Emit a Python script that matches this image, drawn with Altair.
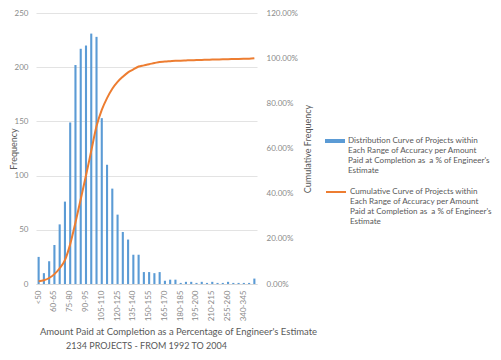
import altair as alt
import pandas as pd

categories = ["<50", "50-55", "55-60", "60-65", "65-70", "70-75", "75-80", "80-85", "85-90",
              "90-95", "95-100", "100-105", "105-110", "110-115", "115-120", "120-125", "125-130",
              "130-135", "135-140", "140-145", "145-150", "150-155", "155-160", "160-165",
              "165-170", "170-175", "175-180", "180-185", "185-190", "190-195", "195-200",
              "200-205", "205-210", "210-215", "225-230", "240-245", "255-260", "275-280",
              "300-305", "340-345", "360-365", ">400"]
frequency = [25, 10, 21, 36, 55, 76, 149, 202, 217, 220, 231, 228, 153, 110, 88, 64, 48,
             41, 27, 27, 11, 11, 10, 11, 3, 4, 4, 1, 2, 2, 1, 2, 1, 2, 1, 1, 2, 1, 1, 1, 1, 5]
shown_labels = ["<50", "60-65", "75-80", "90-95", "105-110", "120-125", "135-140", "150-155",
                "165-170", "180-185", "195-200", "210-215", "255-260", "340-345"]
freq_ticks = [0, 50, 100, 150, 200, 250]
cum_ticks = [0, 0.2, 0.4, 0.6, 0.8, 1.0, 1.2]
bar_series = "Distribution Curve of Projects within|Each Range of Accuracy per Amount|Paid at Completion as\u00a0 a % of Engineer's|Estimate"
line_series = "Cumulative Curve of Projects within|Each Range of Accuracy per Amount|Paid at Completion as\u00a0 a % of Engineer's|Estimate"

df = pd.DataFrame({"range": categories, "freq": frequency,
                   "order": list(range(len(categories)))})
df["bar_series"] = bar_series
df["line_series"] = line_series

FONT = "Lato"
DARK = "#595959"
LIGHT = "#8a8a8a"
BLUE = "#5B9BD5"
ORANGE = "#ED7D31"

xenc = alt.X("range:N", sort=categories,
             scale=alt.Scale(paddingInner=0.6, paddingOuter=0.3),
             axis=alt.Axis(values=shown_labels, labelAngle=270, ticks=False,
                           domainColor="#d9d9d9", labelPadding=6, labelFont=FONT,
                           labelFontSize=8, labelColor=LIGHT,
                           title="Amount Paid at Completion as a Percentage of Engineer's Estimate",
                           titleFont=FONT, titleFontSize=9.5, titleFontWeight="normal",
                           titleColor=DARK, titleX=142, titleAlign="center", titlePadding=6))

bars = alt.Chart(df).mark_bar(color=BLUE).encode(
    x=xenc,
    y=alt.Y("freq:Q", scale=alt.Scale(domain=[0, 250]),
            axis=alt.Axis(values=freq_ticks, ticks=False, domain=False, gridColor="#e3e3e3",
                          labelPadding=8, labelFont=FONT, labelFontSize=8, labelColor=LIGHT,
                          title="Frequency", titleFont=FONT, titleFontSize=9,
                          titleFontWeight="normal", titleColor=DARK, titleX=-23,
                          titleBaseline="middle", titleAngle=270)),
    color=alt.Color("bar_series:N", scale=alt.Scale(range=[BLUE]),
                    legend=alt.Legend(orient="none", legendX=289, legendY=118, title=None,
                                      symbolType="M-1,-0.2L1,-0.2L1,0.2L-1,0.2Z",
                                      symbolSize=400, symbolStrokeWidth=0,
                                      labelExpr="split(datum.label, '|')", labelFont=FONT,
                                      labelFontSize=8.1, labelColor=DARK, labelLimit=300,
                                      labelOffset=3, labelBaseline="middle")),
)

line = alt.Chart(df).transform_window(
    cum="sum(freq)", sort=[alt.SortField("order")]
).transform_joinaggregate(
    total="sum(freq)"
).transform_calculate(
    pct="datum.cum / datum.total"
).mark_line(interpolate="monotone", strokeWidth=2).encode(
    x=alt.X("range:N", sort=categories),
    y=alt.Y("pct:Q", scale=alt.Scale(domain=[0, 1.2]),
            axis=alt.Axis(orient="right", values=cum_ticks, format=".2%", grid=False,
                          ticks=False, domain=False, labelPadding=9, labelFont=FONT,
                          labelFontSize=8, labelColor=LIGHT,
                          title="Cumulative Frequency", titleFont=FONT, titleFontSize=9,
                          titleFontWeight="normal", titleColor=DARK, titleAngle=270,
                          titleX=50, titleBaseline="middle")),
    stroke=alt.Stroke("line_series:N", scale=alt.Scale(range=[ORANGE]),
                      legend=alt.Legend(orient="none", legendX=289, legendY=168, title=None,
                                        symbolType="stroke", symbolSize=400,
                                        symbolStrokeWidth=2,
                                        labelExpr="split(datum.label, '|')", labelFont=FONT,
                                        labelFontSize=8.1, labelColor=DARK, labelLimit=300,
                                        labelOffset=3, labelBaseline="middle")),
)

chart = alt.layer(bars, line).resolve_scale(y="independent").properties(
    width=221, height=271,
    padding={"left": 28, "top": 5, "right": 236, "bottom": 68},
    autosize=alt.AutoSizeParams(type="none"),
    title=alt.Title("2134 PROJECTS - FROM 1992 TO 2004", orient="bottom", anchor="middle",
                    font=FONT, fontSize=9, fontWeight="normal", color=DARK, offset=6),
).configure_view(stroke=None)

chart.save("out.html", embed_options={"renderer": "svg", "actions": False})
